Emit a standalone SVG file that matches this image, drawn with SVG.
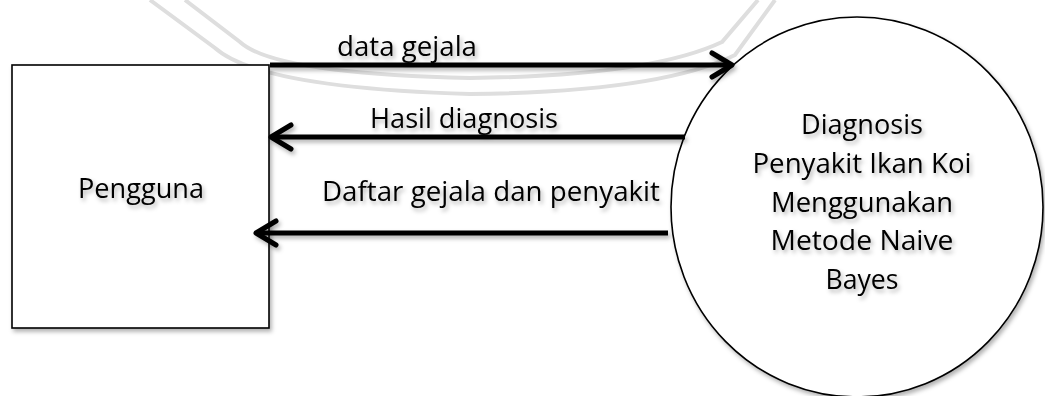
<svg xmlns="http://www.w3.org/2000/svg" width="1045" height="396" viewBox="0 0 1045 396">
  <style>
    .lbl { font-family: "Open Sans", "Liberation Sans", sans-serif; font-size: 27px; fill: #000; }
    .mid { text-anchor: middle; }
    .shape { fill: #fff; stroke: #000; stroke-width: 1.6; }
    .flow { fill: none; stroke: #000; stroke-width: 5; }
    .wm { fill: none; stroke: #dedede; stroke-width: 4; }
  </style>
  <defs>
    <filter id="sh" x="-10%" y="-10%" width="130%" height="140%">
      <feDropShadow dx="2" dy="3" stdDeviation="2" flood-color="#000" flood-opacity="0.3"/>
    </filter>
    <marker id="arr" markerUnits="userSpaceOnUse" markerWidth="30" markerHeight="30" viewBox="0 0 30 30" refX="23" refY="14" orient="auto" overflow="visible">
      <path d="M 3 2 L 23 14 L 3 26" fill="none" stroke="#000" stroke-width="5" stroke-linecap="round" stroke-linejoin="round"/>
    </marker>
  </defs>

  <rect width="1045" height="396" fill="#fff"/>

  <g id="watermark">
    <path class="wm" d="M 150 0 L 215 48 Q 260 88 470 94 Q 660 92 735 55 L 775 0"/>
    <path class="wm" d="M 185 0 L 240 42 Q 275 74 470 78 Q 650 76 722 42 L 758 0"/>
  </g>

  <g id="node-pengguna">
    <rect class="shape" x="12" y="65" width="257" height="263" filter="url(#sh)"/>
    <text class="lbl mid" x="141" y="198" textLength="126" lengthAdjust="spacingAndGlyphs" filter="url(#sh)">Pengguna</text>
  </g>

  <g id="node-proses">
    <ellipse class="shape" cx="857" cy="207" rx="186" ry="190" filter="url(#sh)"/>
    <g class="lbl mid" filter="url(#sh)">
      <text x="862" y="134" textLength="122" lengthAdjust="spacingAndGlyphs">Diagnosis</text>
      <text x="862" y="173" textLength="219" lengthAdjust="spacingAndGlyphs">Penyakit Ikan Koi</text>
      <text x="862" y="212" textLength="182" lengthAdjust="spacingAndGlyphs">Menggunakan</text>
      <text x="862" y="250" textLength="183" lengthAdjust="spacingAndGlyphs">Metode Naive</text>
      <text x="862" y="289" textLength="73" lengthAdjust="spacingAndGlyphs">Bayes</text>
    </g>
  </g>

  <g id="connectors" filter="url(#sh)">
    <line class="flow" x1="270" y1="65" x2="732" y2="65" stroke="#1a1a1a" marker-end="url(#arr)"/>
    <line class="flow" x1="685" y1="137" x2="271" y2="137" marker-end="url(#arr)"/>
    <line class="flow" x1="668" y1="233" x2="256" y2="233" marker-end="url(#arr)"/>
    <text class="lbl" x="337" y="56" textLength="140" lengthAdjust="spacingAndGlyphs">data gejala</text>
    <text class="lbl" x="370" y="128" textLength="188" lengthAdjust="spacingAndGlyphs">Hasil diagnosis</text>
    <text class="lbl" x="322" y="201" textLength="338" lengthAdjust="spacingAndGlyphs">Daftar gejala dan penyakit</text>
  </g>
</svg>
